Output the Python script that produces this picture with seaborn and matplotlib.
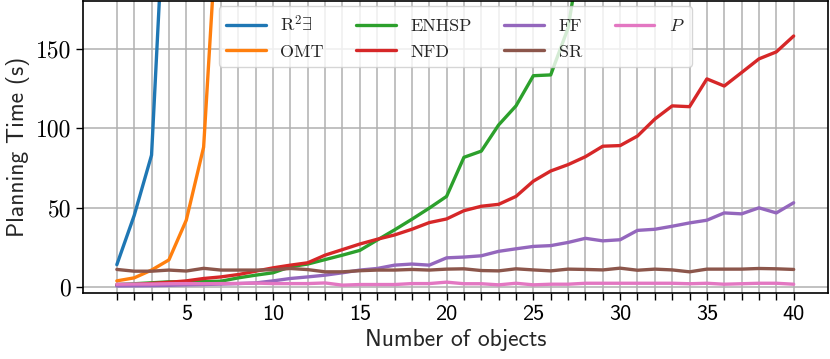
import numpy as np
import pandas as pd
import matplotlib
matplotlib.use('Agg')
import matplotlib.pyplot as plt
import seaborn as sns

# planning times (s) per number of objects
r2e = [14, 45, 83, 300]
omt = [3.8, 5.7, 10.6, 17, 42, 88, 270]
enhsp = [1.5, 2.0, 2.6, 3.2, 3.2, 3.3, 3.6, 5.7, 7.4, 8.9,
         12.7, 14.4, 17.2, 20, 23, 29.5, 35.9, 42.6, 49.6, 57,
         81.6, 85.5, 102, 114, 133, 133.5, 163, 230]
nfd = [1.0, 1.5, 2.2, 2.9, 3.8, 5.3, 6.3, 7.8, 9.9, 12,
       13.7, 15.2, 20, 23.5, 27, 30, 32.7, 36.3, 40.5, 42.8,
       48, 50.8, 52, 57, 66.6, 73, 77, 82, 88.6, 89,
       95, 105.7, 114, 113.5, 131, 126.5, 135, 143.6, 148, 158]
ff = [0.6, 0.7, 0.8, 1.0, 1.3, 1.5, 1.8, 2.1, 2.5, 3.8,
      5.3, 6.3, 7.4, 8.9, 10.6, 11.6, 13.7, 14.4, 13.7, 18.3,
      18.8, 19.6, 22.4, 24, 25.5, 26, 28, 30.6, 29, 29.7,
      35.6, 36.3, 38.2, 40.3, 42, 46.6, 46, 49.8, 46.6, 53]
sr = [11, 9.9, 9.9, 10.6, 10, 11.7, 10.6, 10.6, 10.6, 10.8,
      11.6, 10.9, 9.5, 9.5, 10.2, 10.6, 10.6, 11, 10.6, 11.2,
      11.4, 10.3, 10.1, 11.4, 10.7, 10.1, 11.2, 11, 10.7, 11.8,
      10.5, 11.2, 10.7, 9.5, 11.2, 11.2, 11.2, 11.6, 11.4, 11]
p = [1.7, 1.8, 1.8, 2.0, 2.1, 2.0, 2.1, 2.2, 2.4, 2.1,
     2.1, 2.1, 2.5, 1.1, 1.5, 1.5, 1.5, 2.1, 2.1, 3.0,
     2.0, 2.0, 1.3, 2.3, 1.3, 1.7, 1.7, 2.3, 2.3, 2.3,
     2.3, 2.3, 2.3, 2.0, 2.3, 1.7, 2.0, 2.3, 2.3, 1.7]

series = [
    (r'R$^2\exists$', r2e),
    ('OMT', omt),
    ('ENHSP', enhsp),
    ('NFD', nfd),
    ('FF', ff),
    ('SR', sr),
    (r'$P$', p),
]

sns.set_style('ticks')
plt.rcParams['mathtext.fontset'] = 'cm'
plt.rcParams['axes.unicode_minus'] = False

fig, ax = plt.subplots(figsize=(8.3, 3.59), dpi=100)
fig.subplots_adjust(left=0.1, right=0.997, top=0.997, bottom=0.184)

palette = sns.color_palette('tab10')
for i, (name, vals) in enumerate(series):
    x = np.arange(1, len(vals) + 1)
    sns.lineplot(x=x, y=vals, label=name, color=palette[i], linewidth=2.4, ax=ax)

ax.set_xlim(-0.95, 41.95)
ax.set_ylim(-3.8, 180)
ax.set_xticks(range(1, 41))
ax.set_xticklabels([str(v) if v % 5 == 0 else '' for v in range(1, 41)],
                   fontfamily='cmss10', fontsize=16)
ax.set_yticks([0, 50, 100, 150])
ax.set_yticklabels(['0', '50', '100', '150'], fontfamily='cmr10', fontsize=17)
ax.tick_params(direction='out', length=5, width=1, colors='black')
ax.grid(True, color='#b0b0b0', linewidth=1.1)
for s in ax.spines.values():
    s.set_visible(True)
    s.set_color('black')
    s.set_linewidth(1.2)

ax.set_xlabel('Number of objects', fontfamily='cmss10', fontsize=17)
ax.set_ylabel('Planning Time (s)', fontfamily='cmss10', fontsize=17)

leg = ax.legend(loc='upper center', ncol=4, prop={'family': 'cmr10', 'size': 13},
                framealpha=0.8, borderaxespad=0.3, columnspacing=1.8,
                labelspacing=0.55, handlelength=2.2, bbox_to_anchor=(0.5, 1.0))

fig.savefig('out.png', dpi=100)
